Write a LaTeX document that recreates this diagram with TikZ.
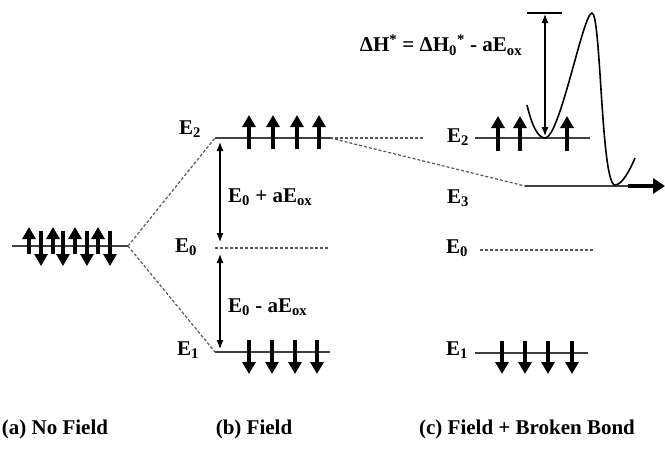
\documentclass[tikz,border=0pt]{standalone}
\usepackage{fontspec}
\setmainfont{Liberation Serif}
\usetikzlibrary{arrows.meta}
\begin{document}
\begin{tikzpicture}[x=1pt,y=-1pt,
  lbl/.style={font=\fontsize{21}{24}\selectfont\bfseries, inner sep=0pt},
  lvl/.style={line width=1.5pt, draw=black!75},
  dlvl/.style={line width=1.2pt, dash pattern=on 3pt off 2pt, draw=black!65},
  elec/.style={line width=3.2pt, -{Triangle[length=12pt,width=13pt]}},
  dbl/.style={line width=1.2pt, {Latex[length=9pt,width=7pt]}-{Latex[length=9pt,width=7pt]}},
  bigarrow/.style={line width=4.5pt, -{Triangle[length=12pt,width=15pt]}}]
\useasboundingbox (0,0) rectangle (665,463);
% (a) no field
\coordinate (aL) at (12,246);
\coordinate (aR) at (128,246);
\draw[lvl] (aL) -- (aR);
\foreach \x in {29,53,75,98} \draw[elec] (\x,254) -- (\x,227);
\foreach \x in {41,63,87,110} \draw[elec] (\x,231) -- (\x,266);
% (b) field
\coordinate (b2L) at (215,138);
\coordinate (b2R) at (330,138);
\coordinate (b0L) at (215,248);
\coordinate (b0R) at (330,248);
\coordinate (b1L) at (215,352);
\coordinate (b1R) at (330,352);
\draw[lvl] (b2L) -- (b2R);
\draw[dlvl] (b0L) -- (b0R);
\draw[lvl] (b1L) -- (b1R);
\draw[dlvl] (aR) -- (b2L);
\draw[dlvl] (aR) -- (b1L);
\foreach \x in {249,273,297,319} \draw[elec] (\x,149) -- (\x,115);
\foreach \x in {249,272,295,317} \draw[elec] (\x,340) -- (\x,374);
\node[lbl] (bE2) at (190,129) {E\textsubscript{2}};
\node[lbl] (bE0) at (186,247) {E\textsubscript{0}};
\node[lbl] (bE1) at (188,350) {E\textsubscript{1}};
\coordinate (ar1t) at (220,142);
\coordinate (ar1b) at (220,242);
\coordinate (ar2t) at (220,254);
\coordinate (ar2b) at (220,349);
\draw[dbl] (ar1t) -- (ar1b);
\draw[dbl] (ar2t) -- (ar2b);
\node[lbl, anchor=west] (plus) at (228,197) {E\textsubscript{0} + aE\textsubscript{ox}};
\node[lbl, anchor=west] (minus) at (228,307) {E\textsubscript{0} - aE\textsubscript{ox}};
% (c) field + broken bond
\coordinate (c2L) at (475,138);
\coordinate (c2R) at (590,138);
\coordinate (c3L) at (525,186);
\coordinate (c3R) at (628,186);
\coordinate (c3E) at (665,186);
\coordinate (c0L) at (480,250);
\coordinate (c0R) at (593,250);
\coordinate (c1L) at (475,353);
\coordinate (c1R) at (588,353);
\coordinate (dash2) at (423,138);
\draw[dlvl] (b2R) -- (dash2);
\draw[dlvl] (b2R) -- (c3L);
\draw[lvl] (c2L) -- (c2R);
\draw[lvl] (c3L) -- (c3R);
\draw[bigarrow] (c3R) -- (c3E);
\draw[dlvl] (c0L) -- (c0R);
\draw[lvl] (c1L) -- (c1R);
\foreach \x in {498,520,567} \draw[elec] (\x,151) -- (\x,116);
\foreach \x in {502,525,548,572} \draw[elec] (\x,341) -- (\x,374);
\node[lbl] (cE2) at (458,137) {E\textsubscript{2}};
\node[lbl] (cE3) at (458,198) {E\textsubscript{3}};
\node[lbl] (cE0) at (457,248) {E\textsubscript{0}};
\node[lbl] (cE1) at (457,350) {E\textsubscript{1}};
% potential curve
\draw[line width=1.6pt] (527,105) .. controls (532,126) and (538,138) .. (545,138)
  .. controls (560,138) and (583,13) .. (592,13)
  .. controls (601,13) and (601,185) .. (615,185)
  .. controls (622,185) and (630,170) .. (635,158);
\coordinate (tickL) at (527,13);
\coordinate (tickR) at (562,13);
\coordinate (hTop) at (545,14);
\coordinate (hBot) at (545,136);
\draw[line width=1.3pt] (tickL) -- (tickR);
\draw[dbl] (hTop) -- (hBot);
\node[lbl] (dH) at (441,45) {ΔH\textsuperscript{*} = ΔH\textsubscript{0}\textsuperscript{*} - aE\textsubscript{ox}};
% captions
\node[lbl] (capa) at (55,429) {(a) No Field};
\node[lbl] (capb) at (254,429) {(b) Field};
\node[lbl] (capc) at (527,429) {(c) Field + Broken Bond};
\end{tikzpicture}
\end{document}
